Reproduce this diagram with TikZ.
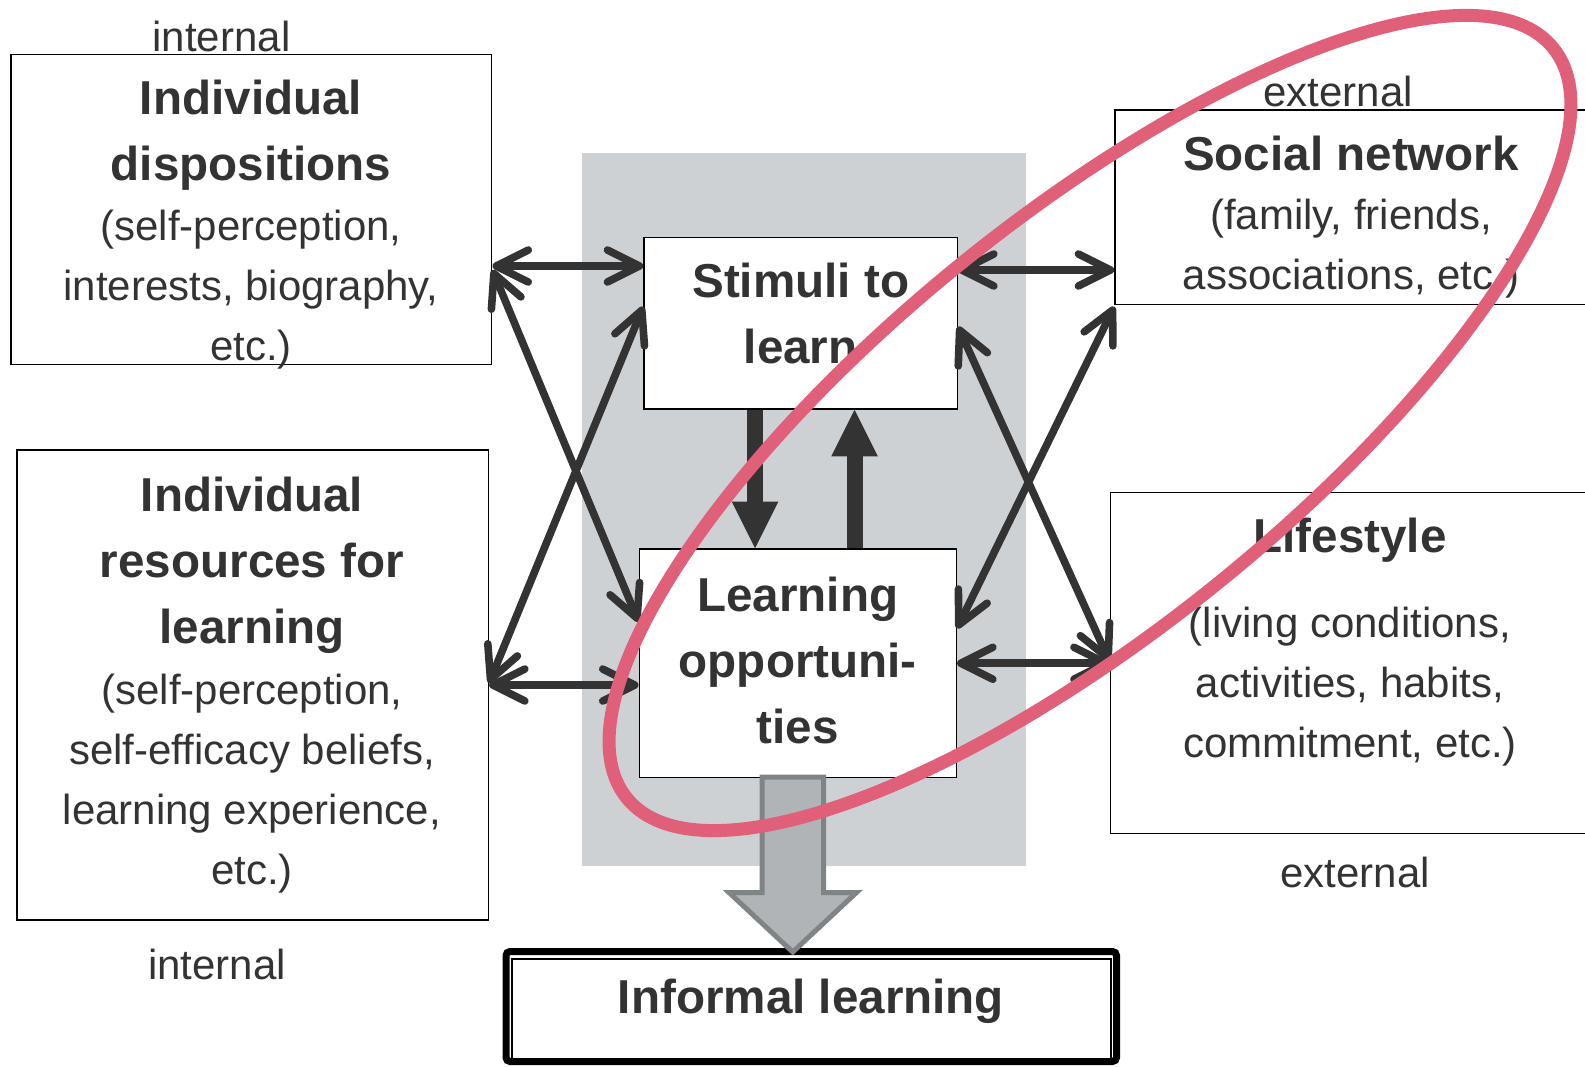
\documentclass[tikz,border=0pt]{standalone}
\usepackage{fontspec}
\setmainfont{Liberation Sans}
\usetikzlibrary{arrows.meta}
\definecolor{ink}{RGB}{51,51,51}
\definecolor{panel}{RGB}{206,209,212}
\definecolor{flowfill}{RGB}{177,180,183}
\definecolor{flowline}{RGB}{127,132,134}
\definecolor{ringred}{RGB}{224,96,122}
\newcommand{\boxhead}[1]{{\fontsize{23.8}{30}\selectfont\bfseries #1}}

\begin{document}
\begin{tikzpicture}
[x=0.5pt, y=-0.5pt,
  box/.style = {draw=black, line width=0.75pt, fill=white, inner sep=0pt},
  txt/.style = {text=ink, align=center, inner sep=0pt, anchor=north,
    font=\fontsize{21}{30}\selectfont},
  tag/.style = {text=ink, inner sep=0pt, anchor=base,
    font=\fontsize{21}{30}\selectfont},
  link/.style = {draw=ink, line width=3.8pt, line cap=round,
    >={Straight Barb[length=16pt, width=16pt, round]}, <->},
  push/.style = {draw=ink, line width=8pt,
    -{Triangle[length=23.3pt, width=23.3pt, line width=0pt]}}]
  \useasboundingbox (0,0) rectangle (1585,1066);
  \fill[panel] (582,152.7) rectangle (1026,865.5);

  % boxes
  \node[box, minimum width=240.35pt, minimum height=155pt] (disp) at (251.35,209.3) {};
  \node[box, minimum width=235.55pt, minimum height=235pt] (res) at (252.75,685) {};
  \node[box, minimum width=156.65pt, minimum height=85.7pt] (stim) at (800.65,323.3) {};
  \node[box, minimum width=158.5pt, minimum height=114.25pt] (opp) at (797.8,663.25) {};
  \node[box, minimum width=262.5pt, minimum height=97.15pt] (soc) at (1377.5,207.15) {};
  \node[box, minimum width=264.75pt, minimum height=170.6pt] (life) at (1375.25,662.9) {};

  \node[txt] (dispT) at (251,79.2) {\boxhead{Individual}\\[3pt]\boxhead{dispositions}\\[0.3pt]
    (self-perception,\\interests, biography,\\etc.)};
  \node[txt] (resT) at (252,476.5) {\boxhead{Individual}\\[3pt]\boxhead{resources for}\\[3pt]
    \boxhead{learning}\\[0.3pt](self-perception,\\self-efficacy beliefs,\\learning experience,\\etc.)};
  \node[txt] (stimT) at (800.7,262.5) {\boxhead{Stimuli to}\\[3pt]\boxhead{learn}};
  \node[txt] (oppT) at (797.7,576.5) {\boxhead{Learning}\\[3pt]\boxhead{opportuni-}\\[3pt]\boxhead{ties}};
  \node[txt] (socT) at (1351,136) {\boxhead{Social network}\\[-0.5pt]
    (family, friends,\\associations, etc.)};
  \node[txt] (lifeT) at (1350,517.6) {\boxhead{Lifestyle}\\[12.5pt]
    (living conditions,\\activities, habits,\\commitment, etc.)};

  \node[tag] (inTop) at (221.5,51.7) {internal};
  \node[tag] (exTop) at (1338,106.7) {external};
  \node[tag] (exBot) at (1355,887) {external};
  \node[tag] (inBot) at (217,979) {internal};

  % outcome
  \node[draw=black, line width=3.5pt, rounded corners=2pt, minimum width=305.25pt,
    minimum height=55pt] (inf) at (811.25,1006.5) {};
  \node[draw=black, line width=1pt, minimum width=299.5pt, minimum height=49.75pt] (infIn) at (811.5,1008.75) {};
  \node[tag, font=\fontsize{23.8}{30}\selectfont\bfseries] (infT) at (811,1013) {Informal learning};

  % arrow rows
  \coordinate (y266) at (0,266);
  \coordinate (y270) at (0,270);
  \coordinate (y685) at (0,685);
  \coordinate (y683) at (0,683);
  \coordinate (y622) at (0,621.7);
  \coordinate (y307) at (0,306.7);
  \coordinate (y327) at (0,326.7);
  \coordinate (y662) at (0,661.7);
  \coordinate (y628) at (0,628.3);

  \draw[link] (disp.east |- y266) -- (stim.west |- y266);
  \draw[link] (stim.east |- y270) -- (soc.west |- y270);
  \draw[link] (res.east |- y685) -- (opp.west |- y685);
  \draw[link] (opp.east) -- (life.west |- opp.east);
  \draw[link] (disp.east |- y270) -- (opp.west |- y622);
  \draw[link] (res.east |- y683) -- (stim.west |- y307);
  \draw[link] (stim.east |- y327) -- (life.west |- y662);
  \draw[link] (opp.east |- y628) -- (soc.west |- y307);

  \coordinate (dn) at (755,0);
  \coordinate (up) at (854.5,0);
  \draw[push] (dn |- stim.south) -- (dn |- opp.north);
  \draw[push] (up |- opp.north) -- (up |- stim.south);

  \draw[draw=flowline, fill=flowfill, line width=2.5pt]
    (762,777) -- (762,892.5) -- (729,892.5) -- (792.75,952) -- (856.5,892.5)
    -- (823.5,892.5) -- (823.5,777) -- cycle;

  \coordinate (ring) at (1090,423);
  \draw[draw=ringred, line width=6.5pt, rotate around={39:(ring)}] (ring) ellipse [x radius=596, y radius=205];
\end{tikzpicture}
\end{document}
